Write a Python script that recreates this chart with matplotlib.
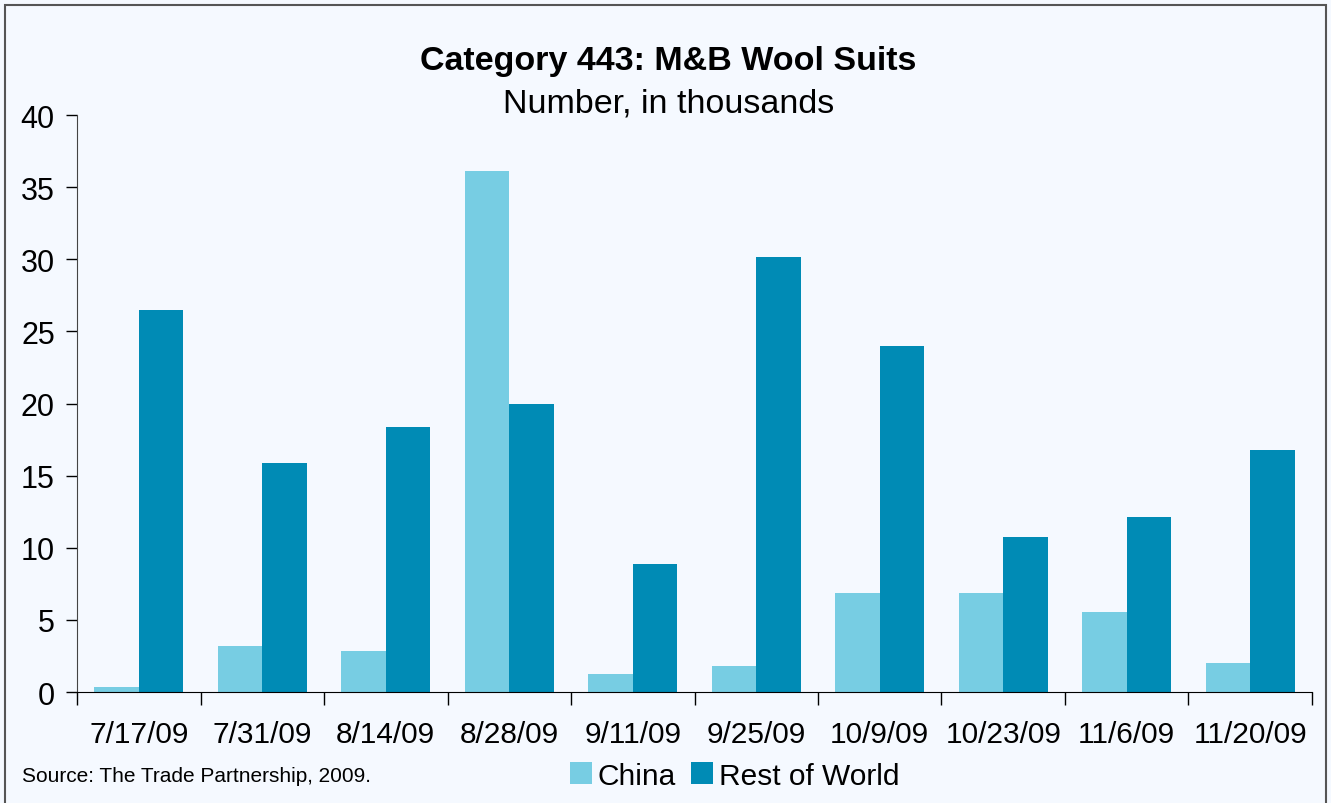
import numpy as np
import matplotlib.pyplot as plt
from matplotlib.patches import Rectangle

plt.rcParams['font.family'] = ['Liberation Sans', 'DejaVu Sans']

dates = ['7/17/09', '7/31/09', '8/14/09', '8/28/09', '9/11/09',
         '9/25/09', '10/9/09', '10/23/09', '11/6/09', '11/20/09']
china = [0.35, 3.2, 2.85, 36.1, 1.25, 1.8, 6.9, 6.85, 5.55, 2.0]
rest_of_world = [26.5, 15.9, 18.35, 19.95, 8.87, 30.15, 24.0, 10.75, 12.1, 16.8]

bg = '#F5F9FF'
c_china = '#77CDE3'
c_row = '#008BB5'

fig = plt.figure(figsize=(13.31, 8.04), dpi=100, facecolor=bg)
fig.patches.append(Rectangle((5 / 1331, -0.01), 1321 / 1331, 1 - 6 / 804 + 0.01,
                             transform=fig.transFigure, fill=False,
                             edgecolor='#555555', linewidth=1.5))
ax = fig.add_axes([0.0579, 0.138, 0.9278, 0.7177])
ax.set_facecolor(bg)

x = np.arange(len(dates))
w = 0.36
ax.bar(x - w / 2, china, w, color=c_china, label='China')
ax.bar(x + w / 2, rest_of_world, w, color=c_row, label='Rest of World')

ax.set_xlim(-0.5, len(dates) - 0.5)
ax.set_ylim(0, 40)
ax.set_yticks(range(0, 41, 5))
ax.tick_params(axis='y', labelsize=22, length=8, width=1, pad=8)

ax.set_xticks(np.arange(-0.5, len(dates), 1.0))
ax.set_xticklabels([])
ax.tick_params(axis='x', which='major', length=9, width=1, direction='out')
ax.set_xticks(x, minor=True)
ax.set_xticklabels(dates, minor=True, fontsize=21.5)
ax.tick_params(axis='x', which='minor', length=0, pad=20)

for s in ['top', 'right']:
    ax.spines[s].set_visible(False)
ax.spines['left'].set_color('#444444')

fig.text(0.502, 0.923, 'Category 443: M&B Wool Suits', ha='center', va='center',
         fontsize=24.5, fontweight='bold')
fig.text(0.502, 0.871, 'Number, in thousands', ha='center', va='center', fontsize=24.5)
fig.text(0.0165, 0.034, 'Source: The Trade Partnership, 2009.', ha='left', va='center',
         fontsize=15)

fig.legend(loc='center', bbox_to_anchor=(0.552, 0.034), ncol=2, frameon=False,
           fontsize=21.5, handlelength=0.75, handleheight=0.75, handletextpad=0.2,
           columnspacing=0.5)

fig.savefig('out.png', dpi=100, facecolor=bg)
